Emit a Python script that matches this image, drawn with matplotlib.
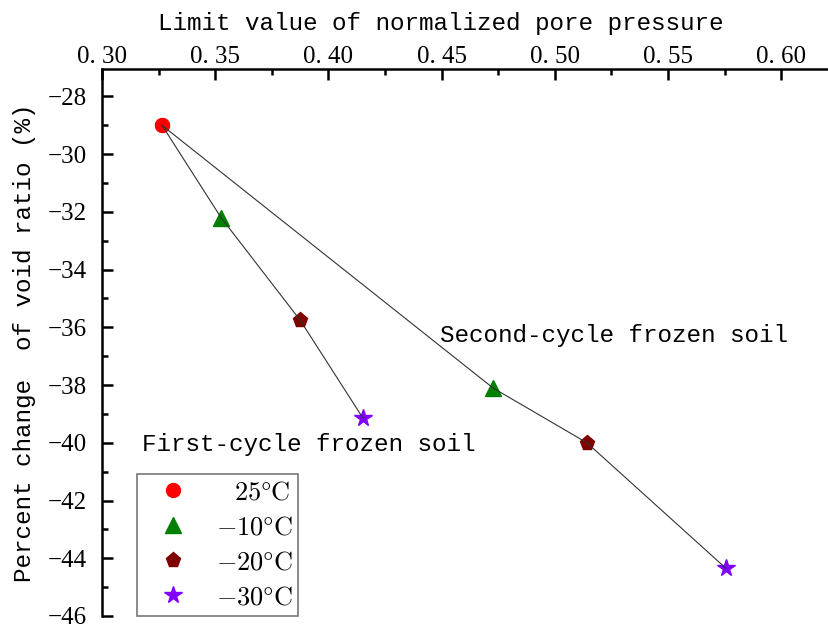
import numpy as np
import matplotlib.pyplot as plt
from matplotlib.ticker import MultipleLocator, FuncFormatter
from matplotlib.lines import Line2D

plt.rcParams['mathtext.fontset'] = 'cm'

temps = [r'$25\degree\mathrm{C}$', r'$-10\degree\mathrm{C}$',
         r'$-20\degree\mathrm{C}$', r'$-30\degree\mathrm{C}$']
colors = ['#ff0000', '#008000', '#800000', '#8000ff']
markers = ['o', '^', 'p', '*']
msizes = [10, 11, 11, 13]

# limit value of normalized pore pressure / percent change of void ratio
first_x = [0.3265, 0.3526, 0.3875, 0.4153]
first_y = [-29.0, -32.2, -35.75, -39.15]
second_x = [0.3265, 0.4727, 0.5142, 0.5756]
second_y = [-29.0, -38.1, -40.0, -44.35]

fig = plt.figure(figsize=(8.29, 6.28), dpi=100)
ax = fig.add_axes([102/829, 12/628, 727/829, 547/628])

mono = 'Liberation Mono'
serif = 'Liberation Serif'

for xs, ys in [(first_x, first_y), (second_x, second_y)]:
    ax.plot(xs, ys, color='#333333', lw=0.8, zorder=3)
    for i in range(4):
        ax.plot(xs[i], ys[i], marker=markers[i], ms=msizes[i], color=colors[i],
                mec=colors[i], ls='none', zorder=2)

ax.set_xlim(0.30, 0.6211)
ax.set_ylim(-46, -27.05)

ax.xaxis.tick_top()
ax.xaxis.set_label_position('top')
for s in ['right', 'bottom']:
    ax.spines[s].set_visible(False)
for s in ['left', 'top']:
    ax.spines[s].set_linewidth(1.8)

ax.xaxis.set_major_locator(MultipleLocator(0.05))
ax.xaxis.set_minor_locator(MultipleLocator(0.025))
ax.yaxis.set_major_locator(MultipleLocator(2))
ax.yaxis.set_minor_locator(MultipleLocator(1))
ax.xaxis.set_major_formatter(FuncFormatter(lambda v, p: ('%.2f' % v).replace('.', '. ')))
ax.yaxis.set_major_formatter(FuncFormatter(lambda v, p: '%d' % round(v) if v >= 0 else '\u2212%d' % round(-v)))
ax.tick_params(which='major', direction='in', length=8, width=1.8, top=True, left=True,
               bottom=False, right=False, labelsize=18)
ax.tick_params(which='minor', direction='in', length=4.5, width=1.8, top=True, left=True,
               bottom=False, right=False)
for lab in ax.get_xticklabels() + ax.get_yticklabels():
    lab.set_fontfamily(serif)
for lab in ax.get_yticklabels():
    lab.set_va('center_baseline')
ax.tick_params(axis='x', pad=1)
ax.tick_params(axis='y', pad=11)

ax.set_xlabel('Limit value of normalized pore pressure', fontfamily=mono,
              fontsize=17.5)
ax.xaxis.set_label_coords(0.466, 1.062)
ax.xaxis.label.set_va('bottom')
ax.set_ylabel('Percent change  of void ratio (%)', fontfamily=mono,
              fontsize=17.5, labelpad=8)

ax.text(0.4495, -36.5, 'Second-cycle frozen soil', fontfamily=mono, fontsize=17.5,
        va='baseline', ha='left')
ax.text(0.3175, -40.28, 'First-cycle frozen soil', fontfamily=mono, fontsize=17.5,
        va='baseline', ha='left')

handles = [Line2D([], [], marker=markers[i], ms=msizes[i], color=colors[i], ls='none')
           for i in range(4)]
labels = [r'$\enspace\;25\degree\mathrm{C}$'] + temps[1:]
leg = ax.legend(handles, labels, loc='lower left', bbox_to_anchor=(0.048, 0.0),
                fontsize=19, frameon=True, fancybox=False, edgecolor='#555555',
                handlelength=2.3, handletextpad=0.5, borderpad=0.2, labelspacing=0.35,
                borderaxespad=0.0)
leg.get_frame().set_linewidth(1.2)

fig.savefig('out.png', dpi=100)
